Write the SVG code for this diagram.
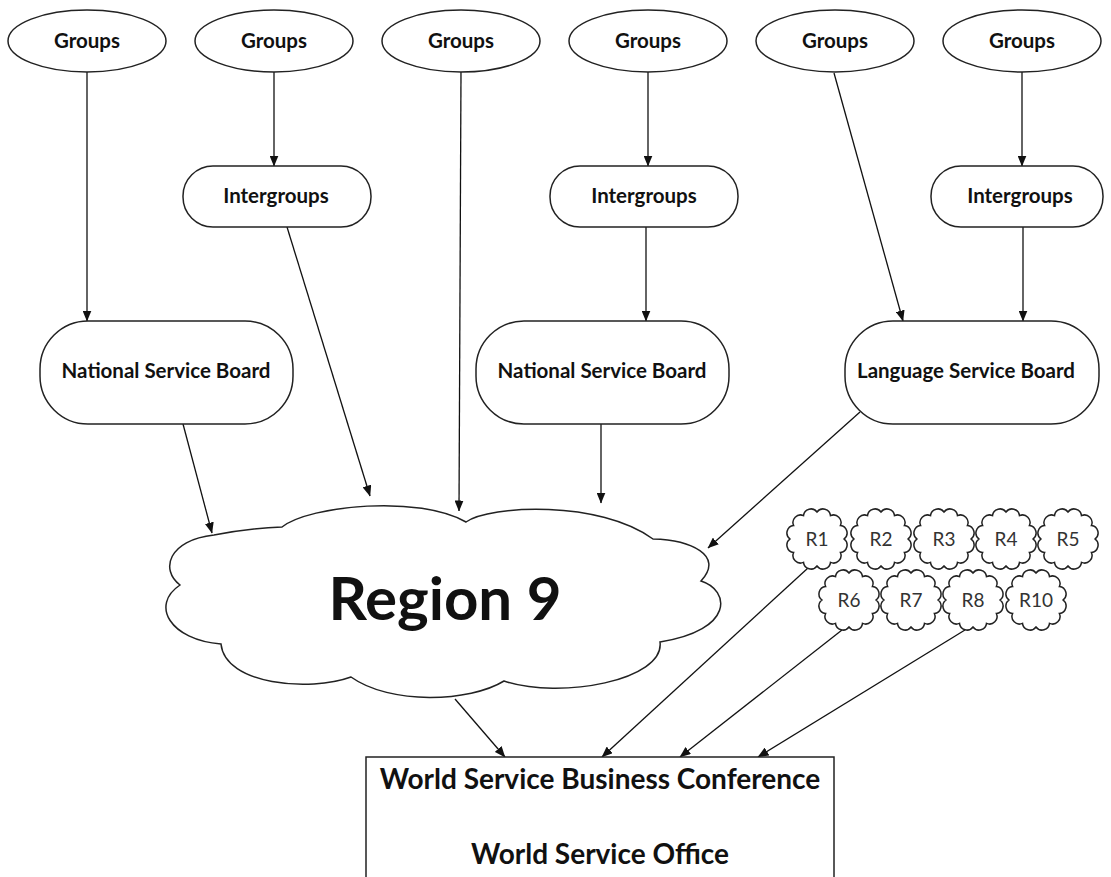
<svg xmlns="http://www.w3.org/2000/svg" width="1111" height="877" viewBox="0 0 1111 877">
<style>
.shape{fill:#fff;stroke:#222;stroke-width:1.5}
.lbl{font-family:Lato,"Open Sans","Liberation Sans",sans-serif;font-weight:bold;fill:#111;text-anchor:middle}
.g{font-size:20.5px}
.big{font-size:60px}
.box{font-size:28px}
.r{font-family:Lato,"Open Sans","Liberation Sans",sans-serif;font-size:19px;fill:#333;text-anchor:middle}
.con{stroke:#111;stroke-width:1.3;fill:none;marker-end:url(#arr)}
</style>
<defs>
<marker id="arr" markerUnits="userSpaceOnUse" markerWidth="11" markerHeight="9" refX="10.5" refY="4.5" orient="auto">
<path d="M0,0 L11,4.5 L0,9 z" fill="#111"/>
</marker>
<path id="sc" d="M0,-27 A7.5,7.5 0 0 1 13.5,-23.38 A7.5,7.5 0 0 1 23.38,-13.5 A7.5,7.5 0 0 1 27,0 A7.5,7.5 0 0 1 23.38,13.5 A7.5,7.5 0 0 1 13.5,23.38 A7.5,7.5 0 0 1 0,27 A7.5,7.5 0 0 1 -13.5,23.38 A7.5,7.5 0 0 1 -23.38,13.5 A7.5,7.5 0 0 1 -27,0 A7.5,7.5 0 0 1 -23.38,-13.5 A7.5,7.5 0 0 1 -13.5,-23.38 A7.5,7.5 0 0 1 0,-27 Z"/>
</defs>
<rect width="1111" height="877" fill="#fff"/>

<g id="connectors">
<line class="con" x1="87" y1="72" x2="87" y2="321"/>
<line class="con" x1="274" y1="72" x2="274" y2="166"/>
<line class="con" x1="648" y1="72" x2="648" y2="166"/>
<line class="con" x1="1022" y1="72" x2="1022" y2="166"/>
<line class="con" x1="834" y1="73" x2="903" y2="321"/>
<line class="con" x1="646" y1="227" x2="646" y2="321"/>
<line class="con" x1="1023" y1="227" x2="1023" y2="321"/>
<line class="con" x1="461" y1="72" x2="459" y2="511"/>
<line class="con" x1="183" y1="424" x2="212" y2="533"/>
<line class="con" x1="287" y1="227" x2="370" y2="496"/>
<line class="con" x1="601" y1="424" x2="601" y2="503"/>
<line class="con" x1="860" y1="412" x2="708" y2="548"/>
<line class="con" x1="455" y1="699" x2="505" y2="757"/>
<line class="con" x1="808" y1="568" x2="602" y2="757"/>
<line class="con" x1="842" y1="630" x2="680" y2="757"/>
<line class="con" x1="965" y1="630" x2="758" y2="757"/>
</g>

<g id="groups1"><ellipse class="shape" cx="87" cy="41" rx="79" ry="31"/><text class="lbl g" x="87" y="48">Groups</text></g>
<g id="groups2"><ellipse class="shape" cx="274" cy="41" rx="79" ry="31"/><text class="lbl g" x="274" y="48">Groups</text></g>
<g id="groups3"><ellipse class="shape" cx="461" cy="41" rx="79" ry="31"/><text class="lbl g" x="461" y="48">Groups</text></g>
<g id="groups4"><ellipse class="shape" cx="648" cy="41" rx="79" ry="31"/><text class="lbl g" x="648" y="48">Groups</text></g>
<g id="groups5"><ellipse class="shape" cx="835" cy="41" rx="79" ry="31"/><text class="lbl g" x="835" y="48">Groups</text></g>
<g id="groups6"><ellipse class="shape" cx="1022" cy="41" rx="79" ry="31"/><text class="lbl g" x="1022" y="48">Groups</text></g>

<g id="intergroups1"><rect class="shape" x="183" y="166" width="188" height="61" rx="30"/><text class="lbl g" x="276" y="203">Intergroups</text></g>
<g id="intergroups2"><rect class="shape" x="550" y="166" width="188" height="61" rx="30"/><text class="lbl g" x="644" y="203">Intergroups</text></g>
<g id="intergroups3"><rect class="shape" x="931" y="166" width="172" height="61" rx="30"/><text class="lbl g" x="1020" y="203">Intergroups</text></g>

<g id="nsb1"><rect class="shape" x="40" y="321" width="253" height="103" rx="48"/><text class="lbl g" x="166" y="378">National Service Board</text></g>
<g id="nsb2"><rect class="shape" x="476" y="321" width="253" height="103" rx="48"/><text class="lbl g" x="602" y="378">National Service Board</text></g>
<g id="lsb"><rect class="shape" x="845" y="321" width="254" height="103" rx="48"/><text class="lbl g" x="966" y="378">Language Service Board</text></g>

<g id="region9">
<path class="shape" d="M180,585 C160,570 168,540 214,535 Q250,528 282,527 C310,505 420,495 466,522 C490,505 600,500 653,539 C690,540 725,555 701,581 C730,590 735,630 660,642 C665,680 560,700 504,681 C470,702 390,705 351,677 C310,692 225,685 221,644 C170,640 150,605 180,585 Z"/>
<text class="lbl big" x="445" y="620">Region 9</text>
</g>

<g id="r1"><use href="#sc" class="shape" x="817" y="539"/><text class="r" x="817" y="546">R1</text></g>
<g id="r2"><use href="#sc" class="shape" x="881" y="539"/><text class="r" x="881" y="546">R2</text></g>
<g id="r3"><use href="#sc" class="shape" x="944" y="539"/><text class="r" x="944" y="546">R3</text></g>
<g id="r4"><use href="#sc" class="shape" x="1006" y="539"/><text class="r" x="1006" y="546">R4</text></g>
<g id="r5"><use href="#sc" class="shape" x="1068" y="539"/><text class="r" x="1068" y="546">R5</text></g>
<g id="r6"><use href="#sc" class="shape" x="849" y="600"/><text class="r" x="849" y="607">R6</text></g>
<g id="r7"><use href="#sc" class="shape" x="911" y="600"/><text class="r" x="911" y="607">R7</text></g>
<g id="r8"><use href="#sc" class="shape" x="973" y="600"/><text class="r" x="973" y="607">R8</text></g>
<g id="r10"><use href="#sc" class="shape" x="1036" y="600"/><text class="r" x="1036" y="607">R10</text></g>

<g id="wsbc">
<rect class="shape" x="366" y="757" width="468" height="130"/>
<text class="lbl box" x="600" y="789">World Service Business Conference</text>
<text class="lbl box" x="600" y="864">World Service Office</text>
</g>
</svg>
